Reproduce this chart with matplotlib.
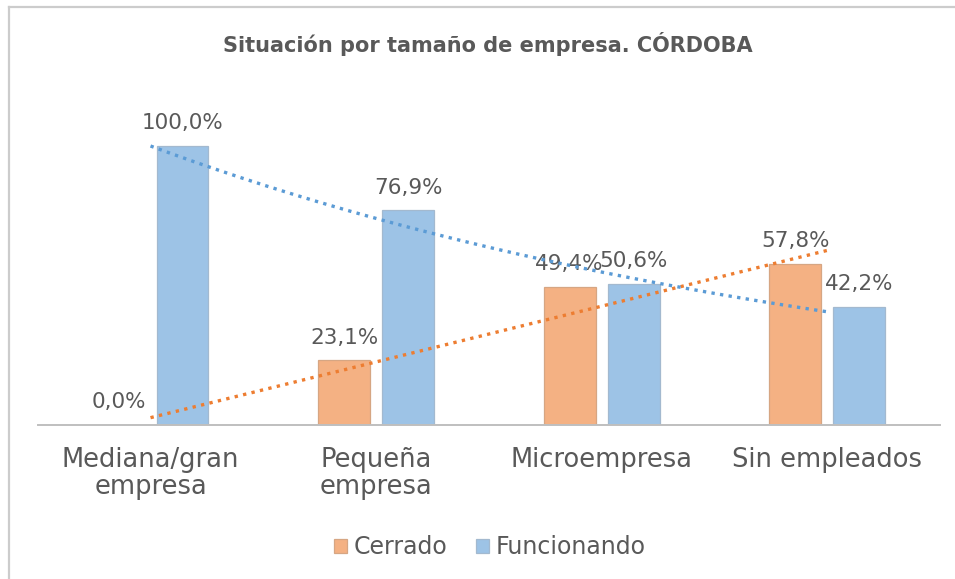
import numpy as np
import matplotlib.pyplot as plt
from matplotlib.lines import Line2D

plt.rcParams['font.family'] = ['DejaVu Sans']

categories = ['Mediana/gran\nempresa', 'Pequeña\nempresa', 'Microempresa', 'Sin empleados']
cerrado = [0.0, 23.1, 49.4, 57.8]
funcionando = [100.0, 76.9, 50.6, 42.2]
series_names = ['Cerrado', 'Funcionando']

txt = '#595959'
orange, orange_edge, orange_trend = '#f4b183', '#d6a683', '#ed7d31'
blue, blue_edge, blue_trend = '#9dc3e6', '#a3b9cf', '#5b9bd5'

fig = plt.figure(figsize=(9.55, 5.79), dpi=100)
ax = fig.add_axes([0.0395, 0.266, 0.9448, 0.5786])

x = np.arange(len(categories))
w = 0.23
off = 0.142

ax.bar(x - off, cerrado, w, color=orange, edgecolor=orange_edge, linewidth=0.9, label=series_names[0])
ax.bar(x + off, funcionando, w, color=blue, edgecolor=blue_edge, linewidth=0.9, label=series_names[1])

for xs, vals in [(x - off, cerrado), (x + off, funcionando)]:
    for xi, v in zip(xs, vals):
        ax.text(xi, v + 6.0, f'{v:.1f}%'.replace('.', ','), ha='center', va='baseline',
                fontsize=15.5, color=txt)

# trend lines: linear for cerrado, exponential for funcionando (as in excel)
xx = np.linspace(0, 3, 200)
k, b = np.polyfit(x, cerrado, 1)
ax.plot(xx, k * xx + b, color=orange_trend, linestyle=(0, (1, 1.6)), linewidth=2.4, zorder=3)
k2, b2 = np.polyfit(x, np.log(funcionando), 1)
ax.plot(xx, np.exp(k2 * xx + b2), color=blue_trend, linestyle=(0, (1, 1.6)), linewidth=2.4, zorder=3)

ax.set_xlim(-0.5, 3.5)
ax.set_ylim(0, 120)
ax.set_yticks([])
ax.set_xticks(x)
ax.set_xticklabels(categories, fontsize=18.5, color=txt, linespacing=1.08)
ax.tick_params(axis='x', length=0, pad=15.5)
for s in ['top', 'right', 'left']:
    ax.spines[s].set_visible(False)
ax.spines['bottom'].set_color('#bfbfbf')
ax.spines['bottom'].set_linewidth(1.4)

fig.text(0.511, 0.910, 'Situación por tamaño de empresa. CÓRDOBA', ha='center', va='baseline',
         fontsize=15, fontweight='bold', color=txt)

fig.legend(loc='center', bbox_to_anchor=(0.513, 0.055), ncol=2, frameon=False, fontsize=17,
           handlelength=0.55, handleheight=0.55, handletextpad=0.3, columnspacing=1.2,
           labelcolor=txt)

# chart frame (only top and left edges show in the picture)
fig.lines.append(Line2D([0.0094, 1.0], [0.988, 0.988], transform=fig.transFigure,
                        color='#cccccc', linewidth=1.6))
fig.lines.append(Line2D([0.0094, 0.0094], [0.0, 0.988], transform=fig.transFigure,
                        color='#cccccc', linewidth=1.6))

fig.savefig('out.png', dpi=100)
